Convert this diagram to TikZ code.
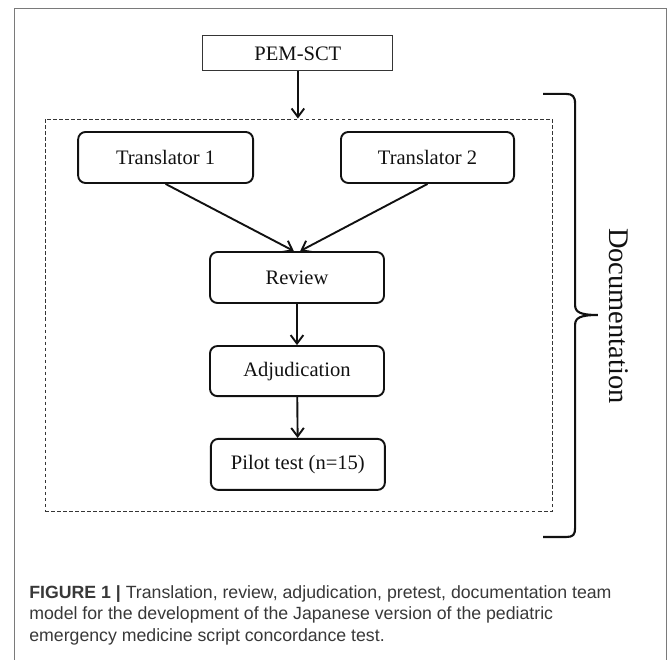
\documentclass[tikz,border=0pt]{standalone}
\usepackage{fontspec}
\setmainfont{Liberation Serif}
\newfontfamily\capfont{Liberation Sans}
\usetikzlibrary{arrows.meta,positioning,calc}
\definecolor{ink}{HTML}{111111}
\definecolor{frame}{HTML}{7A7A7A}
\definecolor{captxt}{HTML}{383838}
\tikzset{
  base/.style={align=center, inner sep=0pt, text=ink, font=\fontsize{19.5}{23}\selectfont},
  stage/.style={base, draw=ink, line width=1.8pt, rounded corners=7pt, minimum width=5.8cm, minimum height=1.7cm},
  src/.style={base, draw=ink!85, line width=1pt, minimum width=6.33cm, minimum height=1.17cm},
  team/.style={draw=ink!85, line width=0.8pt, dash pattern=on 3.5pt off 2.2pt, minimum width=16.9cm, minimum height=13.07cm, inner sep=0pt},
  arr/.style={-{Straight Barb[length=8pt,width=12pt]}, line width=1.8pt, draw=ink},
  lab/.style={text=ink, font=\fontsize{27}{30}\selectfont, inner sep=0pt},
  captext/.style={anchor=north west, align=left, inner sep=0pt, text=captxt, font=\capfont\fontsize{16.8}{20.4}\selectfont},
}
\begin{document}
\begin{tikzpicture}
    \useasboundingbox (0,0) rectangle (22.3,22);
    \draw[frame, line width=0.8pt] (0.48,0) -- (0.48,21.73) -- (22.23,21.73) -- (22.23,0);
    \node[src] (pem) at (9.93,20.22) {PEM-SCT};
    \node[team] (team) at (9.95,11.5) {};
    \node[stage, minimum width=5.83cm] (tr1) at (5.52,16.75) {Translator 1};
    \node[stage, minimum width=5.77cm] (tr2) at (14.25,16.75) {Translator 2};
    \node[stage] (rev) at (9.9,12.75) {Review};
    \node[stage, minimum height=1.67cm] (adj) at (9.9,9.63) {Adjudication};
    \node[stage] (pil) at (9.93,6.52) {Pilot test (n=15)};
    \draw[arr] (pem.south) -- (pem.south |- team.north);
    \draw[arr] (tr1.south) -- ([xshift=-3pt]rev.north);
    \draw[arr] (tr2.south) -- ([xshift=3pt]rev.north);
    \draw[arr] (rev) -- (adj);
    \draw[arr] (adj) -- (pil);
    % brace round the team
    \draw[ink, line width=2pt] (18.1,18.87) -- (18.87,18.87)
      .. controls (19.1,18.87) and (19.17,18.77) .. (19.17,18.53) -- (19.17,11.83)
      .. controls (19.17,11.6) and (19.33,11.5) .. (19.93,11.5)
      .. controls (19.33,11.5) and (19.17,11.4) .. (19.17,11.17) -- (19.17,4.4)
      .. controls (19.17,4.17) and (19.1,4.1) .. (18.87,4.1) -- (18.1,4.1);
    \node[lab, rotate=-90] (doc) at (20.63,11.47) {Documentation};
    \node[captext] (caption) at (0.97,2.49) {\textbf{FIGURE 1 |} Translation, review, adjudication, pretest, documentation team\\
      model for the development of the Japanese version of the pediatric\\
      emergency medicine script concordance test.};
\end{tikzpicture}
\end{document}
